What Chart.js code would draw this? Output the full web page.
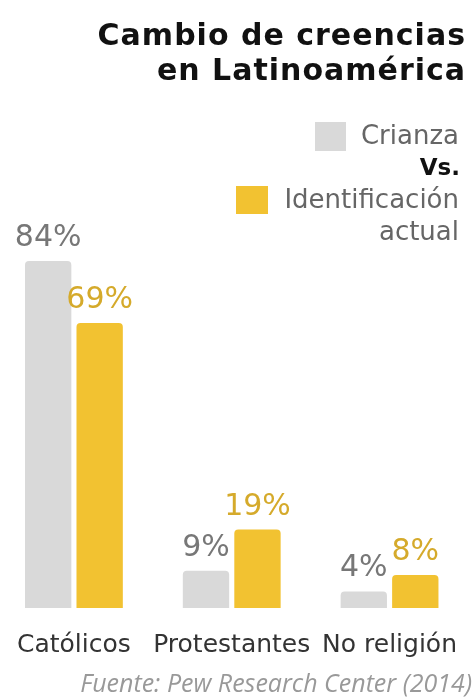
<!DOCTYPE html>
<html>
<head>
<meta charset="utf-8">
<script src="https://cdn.jsdelivr.net/npm/chart.js@4.4.1/dist/chart.umd.min.js"></script>
<style>
  html, body { margin: 0; padding: 0; background: #fff; overflow: hidden; }
  #wrap { position: absolute; left: -5px; top: 0; width: 484px; height: 699px; }
</style>
</head>
<body>
<div id="wrap"><canvas id="chart"></canvas></div>
<script>
// data
const categories = ['Católicos', 'Protestantes', 'No religión'];
const crianza = [84, 9, 4];
const actual = [69, 19, 8];
const seriesNames = ['Crianza', 'Identificación actual'];

const titleLines = ['Cambio de creencias', 'en Latinoamérica'];
const sourceText = 'Fuente: Pew Research Center (2014)';

const GRAY = '#d9d9d9';
const GOLD = '#f2c231';
const FONT = '"DejaVu Sans", sans-serif';

// title, legend, value labels and source note
const decor = {
  id: 'decor',
  afterDatasetsDraw(chart) {
    const ctx = chart.ctx;
    ctx.save();
    ctx.textBaseline = 'middle';

    // title
    ctx.fillStyle = '#111';
    ctx.textAlign = 'right';
    ctx.font = 'bold 30px ' + FONT;
    ctx.letterSpacing = '1px';
    ctx.fillText(titleLines[0], 471, 37);
    ctx.fillText(titleLines[1], 471, 72);
    ctx.letterSpacing = '0px';

    // legend
    ctx.font = '26px ' + FONT;
    ctx.fillStyle = '#666';
    ctx.fillText(seriesNames[0], 464, 137);
    ctx.fillStyle = GRAY;
    ctx.fillRect(320, 122, 31, 29);
    ctx.font = 'bold 23px ' + FONT;
    ctx.fillStyle = '#111';
    ctx.fillText('Vs.', 465, 169);
    ctx.font = '26px ' + FONT;
    ctx.fillStyle = '#666';
    ctx.fillText('Identificación', 464, 201);
    ctx.fillText('actual', 464, 233);
    ctx.fillStyle = GOLD;
    ctx.fillRect(241, 186, 32, 28);

    // value labels above bars
    ctx.textAlign = 'center';
    ctx.textBaseline = 'alphabetic';
    ctx.font = '30px ' + FONT;
    const colors = ['#777', '#d5aa2b'];
    chart.data.datasets.forEach((ds, i) => {
      chart.getDatasetMeta(i).data.forEach((bar, j) => {
        ctx.fillStyle = colors[i];
        ctx.fillText(ds.data[j] + '%', bar.x, bar.y - 15);
      });
    });

    // source
    ctx.textAlign = 'right';
    ctx.textBaseline = 'middle';
    ctx.font = 'italic 25px "Open Sans", sans-serif';
    ctx.fillStyle = '#999';
    ctx.fillText(sourceText, 477, 685);
    ctx.restore();
  }
};

new Chart(document.getElementById('chart'), {
  type: 'bar',
  data: {
    labels: categories,
    datasets: [
      { label: seriesNames[0], data: crianza, backgroundColor: GRAY },
      { label: seriesNames[1], data: actual, backgroundColor: GOLD }
    ]
  },
  options: {
    responsive: true,
    maintainAspectRatio: false,
    animation: false,
    layout: { padding: { top: 195, bottom: 17, left: 0, right: 0 } },
    datasets: {
      bar: {
        categoryPercentage: 0.6525,
        barPercentage: 0.9,
        borderRadius: 4,
        borderSkipped: 'start'
      }
    },
    plugins: {
      legend: { display: false },
      tooltip: { enabled: false },
      title: { display: false }
    },
    scales: {
      x: {
        grid: { display: false, drawTicks: false },
        border: { display: false },
        ticks: {
          color: '#333',
          padding: 22,
          maxRotation: 0,
          minRotation: 0,
          autoSkip: false,
          font: { family: FONT, size: 25 }
        }
      },
      y: {
        display: false,
        min: 0,
        max: 100
      }
    }
  },
  plugins: [decor]
});
</script>
</body>
</html>
